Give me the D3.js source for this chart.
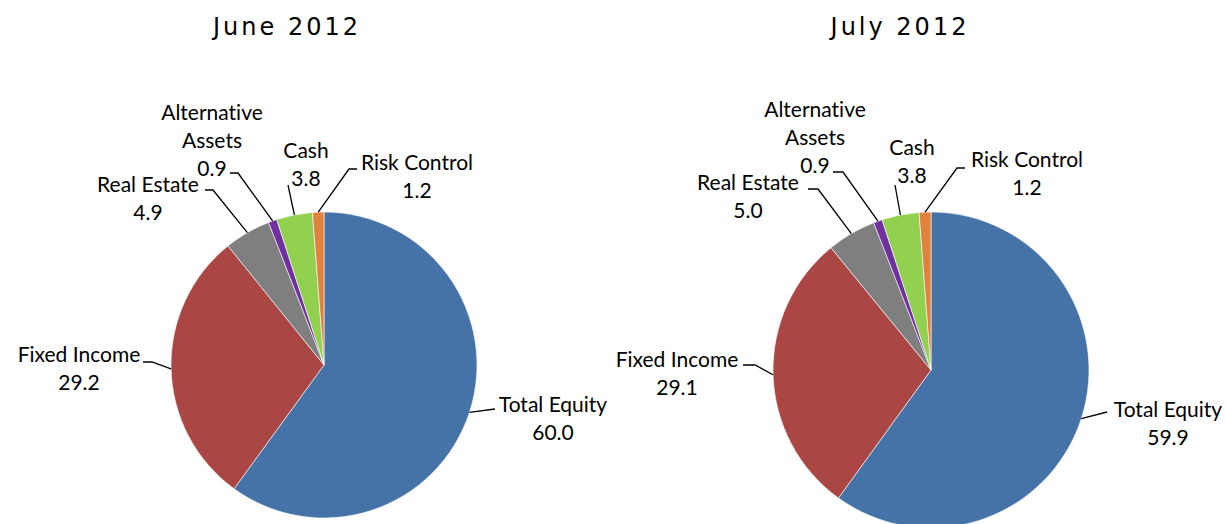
<!DOCTYPE html>
<html><head><meta charset="utf-8">
<script src="https://cdn.jsdelivr.net/npm/d3@7"></script>
<style>body{margin:0;background:#fff;overflow:hidden} text{font-variant-ligatures:none;font-feature-settings:"liga" 0}</style>
</head><body>
<svg id="c" width="1226" height="524"></svg>
<script>
// ---- data ----
const categories = ["Total Equity","Fixed Income","Real Estate","Alternative Assets","Cash","Risk Control"];
const juneValues = [60.0, 29.2, 4.9, 0.9, 3.8, 1.2];
const julyValues = [59.9, 29.1, 5.0, 0.9, 3.8, 1.2];
const chartTitles = ["June 2012", "July 2012"];
const labelLines = [["Total Equity"],["Fixed Income"],["Real Estate"],["Alternative","Assets"],["Cash"],["Risk Control"]];

// ---- styling / layout ----
const colors = ["#4572A7","#AA4643","#7F7F7F","#7030A0","#92D050","#E0823D"];
const charts = [
  {values: juneValues, title: chartTitles[0], cx: 324, cy: 365, r: 153, tx: 287,
   labels: [
     {x: 553, y: 412, path: [[495,409]]},
     {x: 79,  y: 362, path: [[143,362],[152,362]]},
     {x: 148, y: 192, path: [[205,190],[213,190]]},
     {x: 212, y: 120, path: [[230,173],[238,173]]},
     {x: 306, y: 158, path: [[288,185]]},
     {x: 417, y: 170, path: [[357,169],[349,169]]}
   ]},
  {values: julyValues, title: chartTitles[1], cx: 931, cy: 370, r: 158, tx: 900,
   labels: [
     {x: 1168, y: 417, path: [[1107,412]]},
     {x: 677,  y: 367, path: [[743,365],[755,365]]},
     {x: 748,  y: 190, path: [[808,189],[818,189]]},
     {x: 815,  y: 117, path: [[833,172],[843,172]]},
     {x: 912,  y: 155, path: [[895,185]]},
     {x: 1027, y: 167, path: [[965,168],[957,168]]}
   ]}
];
const lineH = 28;

const svg = d3.select("#c");
const color = d3.scaleOrdinal().domain(categories).range(colors);
const pie = d3.pie().sort(null).value(d => d.v);

charts.forEach(ch => {
  const data = categories.map((c,i) => ({c, v: ch.values[i], i}));
  const arcs = pie(data);
  const arc = d3.arc().innerRadius(0).outerRadius(ch.r);
  const edge = d3.arc().innerRadius(ch.r).outerRadius(ch.r);
  const g = svg.append("g").attr("transform", `translate(${ch.cx},${ch.cy})`);
  g.selectAll("path.slice").data(arcs).join("path")
    .attr("class","slice")
    .attr("d", arc)
    .attr("fill", d => color(d.data.c))
    .attr("stroke", "#fff").attr("stroke-width", 0.6);

  arcs.forEach((a, k) => {
    const L = ch.labels[k];
    const e = edge.centroid(a);
    const pts = L.path.concat([[e[0] + ch.cx, e[1] + ch.cy]]);
    svg.append("path")
      .attr("d", d3.line()(pts))
      .attr("fill","none").attr("stroke","#000").attr("stroke-width",1.3);
    const lines = labelLines[k].concat([d3.format(".1f")(a.data.v)]);
    const t = svg.append("text")
      .attr("text-anchor","middle")
      .attr("font-family","Lato, 'Open Sans', sans-serif")
      .attr("font-size", 21)
      .attr("fill","#000");
    lines.forEach((s, j) => {
      t.append("tspan").attr("x", L.x).attr("y", L.y + j*lineH).text(s);
    });
  });

  svg.append("text")
    .attr("x", ch.tx).attr("y", 35)
    .attr("text-anchor","middle")
    .attr("font-family","'DejaVu Sans', sans-serif")
    .attr("font-size", 24)
    .attr("letter-spacing", 3)
    .attr("fill","#000")
    .text(ch.title);
});
</script>
</body></html>
